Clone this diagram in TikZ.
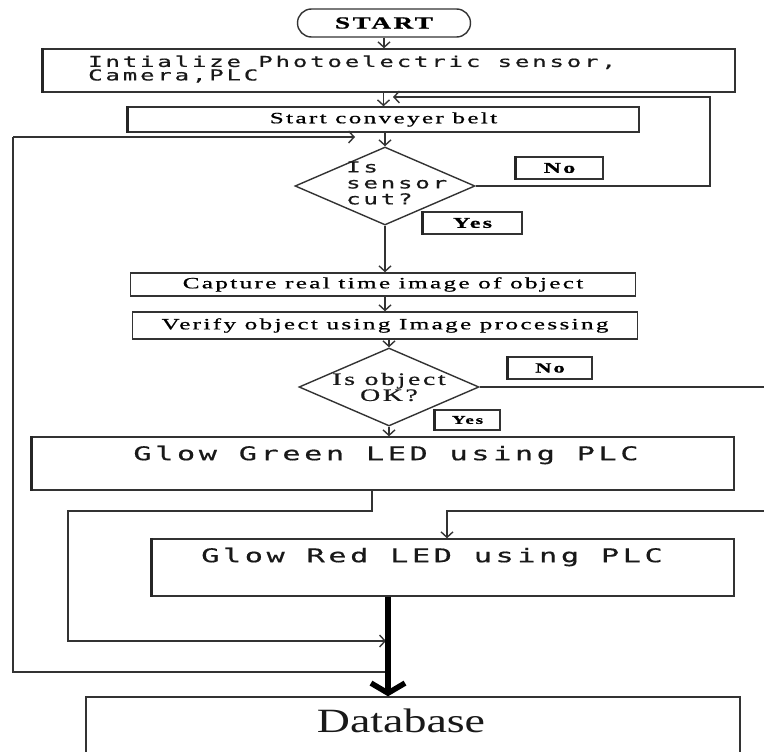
\documentclass[tikz,border=0pt]{standalone}
\usepackage{fontspec}
\usetikzlibrary{arrows.meta,shapes.geometric}
\newfontfamily\monof[FakeStretch=1.6,LetterSpace=19,FakeBold=0.6]{DejaVu Sans Mono}
\newfontfamily\serf[FakeStretch=1.6,LetterSpace=15,FakeBold=0.8]{Liberation Serif}
\newfontfamily\dbf[FakeStretch=1.35]{Liberation Serif}
\begin{document}
\begin{tikzpicture}[x=1pt,y=-1pt,
  ln/.style={draw=black!80, line width=1.4pt},
  box/.style={ln, rectangle, inner sep=0pt},
  lbox/.style={box, append after command={(\tikzlastnode.north west) edge[draw=black!85,line width=3pt] (\tikzlastnode.south west)}},
  dia/.style={ln, diamond, aspect=2.31, minimum width=180pt, minimum height=78pt, inner sep=0pt},
  arr/.style={ln, -{Straight Barb[length=5.5pt,width=12pt]}},
  thickarr/.style={draw=black, line width=5.5pt, -{Straight Barb[length=10pt,width=34pt]}},
  mtext/.style={inner sep=0pt, text=black!90},
]
\useasboundingbox (0,0) rectangle (764,752);
\fill[white] (0,0) rectangle (764,752);

% boxes
\node[box, rounded corners=14pt, minimum width=173pt, minimum height=28pt, font=\serf\bfseries\fontsize{17}{18}\selectfont] (start) at (384,23) {START};
\node[lbox, minimum width=692pt, minimum height=43pt] (init) at (389,70.5) {};
\node[mtext, anchor=west, align=left, font=\monof\fontsize{15}{13.5}\selectfont] (initt) at (88,69) {Intialize Photoelectric sensor,\\Camera,PLC};
\node[lbox, minimum width=511pt, minimum height=25pt, font=\serf\fontsize{15.7}{18}\selectfont] (conv) at (383.5,119.5) {Start conveyer belt};
\node[dia] (d1) at (385,186) {};
\node[mtext, anchor=west, align=left, font=\monof\fontsize{15}{16}\selectfont] (d1t) at (346,183) {Is\\sensor\\cut?};
\node[lbox, minimum width=87pt, minimum height=22pt, font=\serf\bfseries\fontsize{15}{15}\selectfont] (no1) at (559.5,168) {No};
\node[lbox, minimum width=99pt, minimum height=22pt, font=\serf\bfseries\fontsize{15}{15}\selectfont] (yes1) at (472.5,223) {Yes};
\node[box, minimum width=505pt, minimum height=23pt, font=\serf\fontsize{15.7}{18}\selectfont] (cap) at (383,284.5) {Capture real time image of object};
\node[box, minimum width=505pt, minimum height=27pt, font=\serf\fontsize{15.7}{18}\selectfont] (ver) at (385,325.5) {Verify object using Image processing};
\node[dia] (d2) at (389,387) {};
\node[mtext, align=center, font=\serf\fontsize{17.4}{16}\selectfont] (d2t) at (389,387) {Is object\\OK?};
\node[lbox, minimum width=84pt, minimum height=22pt, font=\serf\bfseries\fontsize{14}{15}\selectfont] (no2) at (550,368) {No};
\node[lbox, minimum width=65pt, minimum height=20pt, font=\serf\bfseries\fontsize{12}{15}\selectfont] (yes2) at (467.5,420) {Yes};
\node[lbox, minimum width=702pt, minimum height=53pt] (green) at (383,463.5) {};
\node[mtext, font=\monof\fontsize{18.9}{20}\selectfont] (greent) at (386,455) {Glow Green LED using PLC};
\node[lbox, minimum width=582pt, minimum height=57pt] (red) at (443,567.5) {};
\node[mtext, font=\monof\fontsize{18.9}{20}\selectfont] (redt) at (432,557) {Glow Red LED using PLC};
\node[box, minimum width=654pt, minimum height=73pt] (db) at (413,733.5) {};
\node[mtext, font=\dbf\fontsize{34}{36}\selectfont] (dbt) at (401,721) {Database};

% coordinates
\coordinate (rloop) at (710,97);
\coordinate (rloopend) at (393,97);
\coordinate (redge1) at (770,387);
\coordinate (redge2) at (770,511);
\coordinate (rturn) at (447,511);
\coordinate (gdown) at (372,511);
\coordinate (ileft) at (68,511);
\coordinate (ibot) at (68,641);
\coordinate (iend) at (386,641);
\coordinate (axis) at (388,0);
\coordinate (obot) at (388,672);
\coordinate (oleft) at (13,672);
\coordinate (otop) at (13,137);
\coordinate (oend) at (355,137);

% connectors
\draw[arr] (start.south) -- (start.south |- init.north);
\draw[arr] (conv.north |- init.south) -- (conv.north);
\draw[arr] (d1.north |- conv.south) -- (d1.north);
\draw[arr] (d1.east) -| (rloop) -- (rloopend);
\draw[arr] (d1.south) -- (d1.south |- cap.north);
\draw[arr] (d1.south |- cap.south) -- (d1.south |- ver.north);
\draw[arr] (d2.north |- ver.south) -- (d2.north);
\draw[arr] (d2.south) -- (d2.south |- green.north);
\draw[ln] (d2.east) -- (redge1);
\draw[arr] (redge2) -- (rturn) -- (rturn |- red.north);
\draw[arr] (gdown |- green.south) -- (gdown) -- (ileft) -- (ibot) -- (iend);
\draw[ln] (obot) -- (oleft) -- (otop);
\draw[arr] (otop) -- (oend);
\draw[thickarr] (axis |- red.south) -- (axis |- db.north);
\end{tikzpicture}
\end{document}
